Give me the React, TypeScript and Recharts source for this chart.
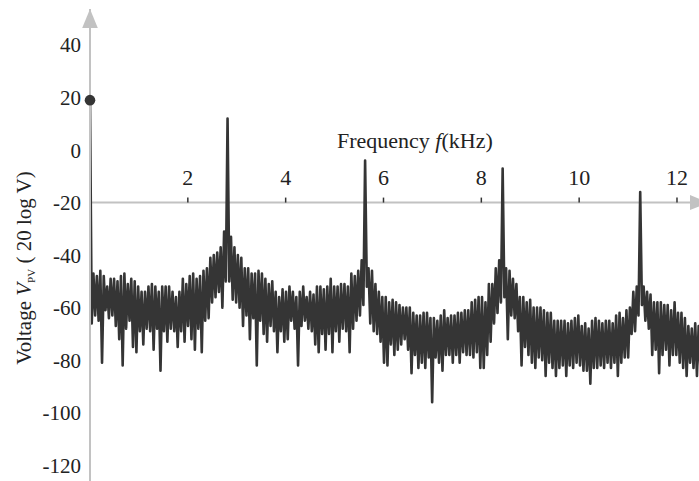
// Spectrum of the PV voltage: dense noisy trace with harmonic peaks,
// axes drawn crossing at -20 dB like a classic engineering plot.
import { LineChart, Line, XAxis, YAxis, ReferenceLine, ReferenceDot } from 'recharts'

const FONT = 'Liberation Serif, DejaVu Serif, serif'
const AXIS_GREY = '#c2c2c2'
const TRACE = '#353535'

// frequency bins (kHz) are evenly spaced; each bin has a top and a bottom reading
const FREQ_STEP = 0.0703
const X_MAX = 12.45
const Y_MIN = -126
const Y_MAX = 53.7
const X_AXIS_AT = -20

const X_TICKS = [2, 4, 6, 8, 10, 12]
const Y_TICKS = [-120, -100, -80, -60, -40, -20, 0, 20, 40]

// top of each bin (dB); bin 0 is the DC component
const UPPER = [
  19, -47, -48, -46, -48, -52, -49, -49, -50, -48,
  -47, -51, -49, -50, -52, -54, -54, -52, -51, -52,
  -54, -52, -52, -52, -54, -56, -54, -49, -51, -48,
  -47, -49, -48, -46, -45, -41, -40, -39, -37, -31,
  12, -33, -37, -40, -41, -45, -45, -47, -47, -46,
  -47, -49, -51, -50, -54, -56, -53, -54, -52, -54,
  -56, -54, -52, -56, -54, -55, -52, -52, -53, -52,
  -49, -52, -52, -51, -51, -52, -47, -48, -46, -42,
  -4, -45, -46, -51, -54, -56, -56, -58, -57, -58,
  -59, -60, -60, -60, -62, -63, -63, -62, -62, -64,
  -64, -65, -63, -61, -64, -63, -63, -62, -62, -61,
  -61, -58, -57, -56, -56, -58, -51, -51, -45, -42,
  -7, -45, -46, -49, -51, -56, -56, -58, -57, -60,
  -60, -60, -61, -62, -62, -65, -65, -65, -65, -66,
  -65, -64, -63, -67, -66, -68, -65, -64, -65, -66,
  -65, -65, -66, -63, -62, -64, -61, -60, -54, -52,
  -16, -52, -54, -55, -58, -58, -58, -59, -59, -61,
  -58, -62, -62, -64, -67, -68, -66, -67,
]

// bottom of each bin (dB), including the deep noise spikes
const LOWER = [
  -66, -63, -65, -81, -61, -64, -63, -67, -72, -82,
  -68, -65, -75, -77, -69, -74, -68, -69, -76, -68,
  -84, -69, -73, -68, -69, -75, -69, -73, -67, -72,
  -76, -68, -77, -65, -64, -58, -56, -54, -60, -50,
  -50, -57, -58, -60, -67, -63, -72, -64, -82, -65,
  -70, -73, -67, -69, -77, -69, -73, -72, -65, -68,
  -82, -67, -65, -68, -69, -74, -77, -70, -76, -70,
  -77, -69, -73, -68, -69, -77, -68, -65, -63, -59,
  -52, -66, -69, -70, -73, -81, -82, -74, -78, -76,
  -74, -72, -76, -85, -78, -83, -81, -83, -79, -96,
  -79, -81, -84, -78, -78, -81, -78, -81, -77, -78,
  -78, -79, -77, -83, -83, -78, -73, -66, -62, -58,
  -56, -72, -63, -64, -69, -82, -75, -78, -81, -83,
  -79, -80, -86, -81, -83, -86, -83, -82, -86, -82,
  -83, -81, -82, -84, -84, -89, -83, -83, -82, -83,
  -81, -83, -81, -86, -81, -79, -79, -70, -69, -63,
  -59, -65, -68, -78, -76, -85, -78, -76, -82, -78,
  -78, -81, -83, -86, -81, -83, -86, -83,
]

const spectrum = UPPER.flatMap((hi, i) => [
  { f: i * FREQ_STEP, v: hi },
  { f: (i + 0.5) * FREQ_STEP, v: LOWER[i] },
])

const upArrow = (p: any) => (
  <polygon
    points={`${p.cx},${p.cy} ${p.cx - 7.8},${p.cy + 19} ${p.cx + 7.8},${p.cy + 19}`}
    fill={AXIS_GREY}
  />
)

const rightArrow = (p: any) => (
  <polygon
    points={`${p.cx + 10},${p.cy} ${p.cx - 9},${p.cy - 7.5} ${p.cx - 9},${p.cy + 7.5}`}
    fill={AXIS_GREY}
  />
)

const xTick = (label: number) => (p: any) => (
  <g>
    <line x1={p.cx} y1={p.cy} x2={p.cx} y2={p.cy - 5} stroke="#333" strokeWidth={1.5} />
    <text x={p.cx} y={p.cy - 18} textAnchor="middle" fontFamily={FONT} fontSize={22} fill="#222">
      {label}
    </text>
  </g>
)

export default function App() {
  return (
    <div style={{ position: 'absolute', left: 0, top: 0, background: '#fff' }}>
      <LineChart width={699} height={481} data={spectrum} margin={{ top: 9, right: 0, bottom: 0, left: 0 }}>
        <XAxis dataKey="f" type="number" domain={[0, X_MAX]} allowDataOverflow hide />
        <YAxis
          type="number"
          width={90}
          domain={[Y_MIN, Y_MAX]}
          ticks={Y_TICKS}
          allowDataOverflow
          tickLine={false}
          tickSize={0}
          tickMargin={9}
          axisLine={{ stroke: AXIS_GREY, strokeWidth: 2 }}
          tick={{ fill: '#222', fontSize: 21, fontFamily: FONT }}
        />
        <ReferenceLine y={X_AXIS_AT} stroke={AXIS_GREY} strokeWidth={2} />
        {X_TICKS.map((t) => (
          <ReferenceDot key={t} x={t} y={X_AXIS_AT} r={0} shape={xTick(t)} ifOverflow="visible" />
        ))}
        <ReferenceDot x={0} y={Y_MAX} r={0} shape={upArrow} ifOverflow="visible" />
        <ReferenceDot x={X_MAX} y={X_AXIS_AT} r={0} shape={rightArrow} ifOverflow="visible" />
        <Line
          type="linear"
          dataKey="v"
          stroke={TRACE}
          strokeWidth={2.6}
          strokeLinejoin="round"
          dot={false}
          isAnimationActive={false}
        />
        <ReferenceDot x={0} y={UPPER[0]} r={5.3} fill={TRACE} stroke="none" ifOverflow="visible" />
        <text x={337} y={148} fontFamily={FONT} fontSize={22} fill="#222">
          Frequency <tspan fontStyle="italic">f</tspan>(kHz)
        </text>
        <text transform="translate(31, 268) rotate(-90)" textAnchor="middle" fontFamily={FONT} fontSize={21} fill="#222">
          Voltage <tspan fontStyle="italic">V</tspan>
          <tspan fontSize={11} dy={4}>PV</tspan>
          <tspan dy={-4}> ( 20 log V)</tspan>
        </text>
      </LineChart>
    </div>
  )
}
